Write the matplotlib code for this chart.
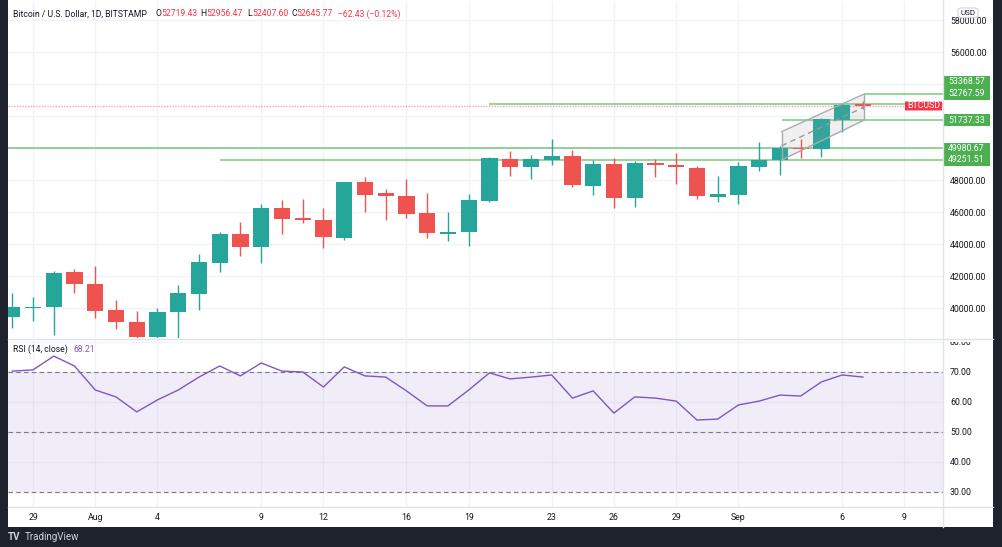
import matplotlib.pyplot as plt
import matplotlib.patches as mpatches
import matplotlib.transforms as mtrans
import numpy as np
import pandas as pd

plt.rcParams['font.family'] = ['Roboto', 'DejaVu Sans']

# daily candles 28 Jul .. 7 Sep 2021
dates = pd.date_range('2021-07-28', '2021-09-07')
opens = [39419, 39990, 40062, 42231, 41500, 39875, 39144, 38169, 39731, 40894,
         42831, 44606, 43831, 46269, 45606, 45500, 44356, 47856, 47169, 47019,
         45937, 44606, 44731, 46706, 49294, 48831, 49269, 49481, 47644, 49000,
         46856, 49062, 48919, 48750, 46956, 47062, 48794, 49250, 50019, 49919,
         51750, 52719.43]
highs = [40919, 40669, 42312, 42437, 42644, 40481, 39812, 39981, 41419, 43394,
         44769, 45356, 46500, 46750, 46794, 46231, 47894, 48187, 47419, 48081,
         47187, 46019, 47106, 49456, 49812, 49562, 50562, 49894, 49250, 49394,
         49206, 49331, 49687, 48875, 48250, 49144, 50394, 50100, 50562, 51900,
         52794, 52956.47]
lows = [38769, 39206, 38312, 40956, 39394, 38687, 38062, 38106, 38062, 39856,
        42250, 43269, 42794, 44644, 45331, 43769, 44250, 45981, 45481, 45625,
        44394, 44206, 43875, 46606, 48231, 48044, 48937, 47581, 47062, 46269,
        46331, 48206, 47750, 46831, 46644, 46500, 48581, 48331, 49356, 49456,
        51019, 52407.60]
closes = [40062, 40030, 42206, 41481, 39812, 39144, 38169, 39750, 40919, 42856,
          44606, 43831, 46269, 45581, 45481, 44419, 47856, 47081, 46981, 45894,
          44687, 44731, 46731, 49356, 48831, 49294, 49519, 47706, 48981, 46856,
          49081, 48919, 48794, 46981, 47125, 48856, 49250, 50019, 49919, 51794,
          52708, 52645.77]
rsi = [70.2, 70.6, 75.2, 71.9, 63.9, 61.6, 56.6, 60.6, 63.9, 68.2,
       71.9, 68.6, 72.9, 70.2, 69.9, 64.9, 71.6, 68.6, 68.2, 63.6,
       58.6, 58.6, 63.9, 69.6, 67.6, 68.2, 68.9, 61.2, 63.6, 56.2,
       61.6, 61.2, 60.2, 53.9, 54.2, 58.9, 60.2, 62.2, 61.9, 66.6,
       68.9, 68.21]

# horizontal levels drawn on the chart
levels = [53368.57, 52767.59, 51737.33, 49980.67, 49251.51]
level_from = [41.05, 23.0, 37.08, -1.0, 10.0]
label_at = [54140, 53390, 51737.33, 49980.67, 49251.51]
# parallel channel
chan_x = [37.08, 41.05]
chan_lo = [49251.51, 51737.33]
chan_hi = [51020, 53368.57]
last_price = 52645.77

tick_labels = ['29', 'Aug', '4', '9', '12', '16', '19', '23', '26', '29', 'Sep', '6', '9']
tick_dates = ['2021-07-29', '2021-08-01', '2021-08-04', '2021-08-09', '2021-08-12',
              '2021-08-16', '2021-08-19', '2021-08-23', '2021-08-26', '2021-08-29',
              '2021-09-01', '2021-09-06', '2021-09-09']

UP = '#26a69a'
DOWN = '#ef5350'
GRID = '#f0f3fa'
TXT = '#131722'
LVL = '#4caf50'

W, H = 1002, 547
def fx(x):
    return x / W
def fy(y):
    return 1 - y / H

fig = plt.figure(figsize=(W / 100, H / 100), dpi=100, facecolor='#1e222d')
fig.add_artist(mpatches.Rectangle((fx(8), fy(527)), fx(985), 527 / H, transform=fig.transFigure,
                                  facecolor='white', edgecolor='none', zorder=-5))

ax1 = fig.add_axes([fx(8), fy(338), fx(935), 337 / H])
ax2 = fig.add_axes([fx(8), fy(507), fx(935), 168 / H], sharex=ax1)
for ax in (ax1, ax2):
    ax.set_facecolor('none')
    for s in ax.spines.values():
        s.set_visible(False)
    ax.yaxis.tick_right()
    ax.tick_params(axis='both', length=0, labelsize=6.3, labelcolor=TXT, pad=5)
    ax.grid(True, color=GRID, lw=1)
    ax.set_axisbelow(True)

x = np.arange(len(dates))
o = np.array(opens); c = np.array(closes)
colors = [UP if cc >= oo else DOWN for oo, cc in zip(o, c)]
body_lo = np.minimum(o, c)
body_h = np.maximum(np.abs(c - o), 70)
ax1.vlines(x, lows, highs, colors=colors, lw=1, zorder=3)
ax1.bar(x, body_h, bottom=body_lo, width=0.78, color=colors, zorder=4)

# levels
xmin, xmax = -0.205, 44.86
for lv, x0 in zip(levels, level_from):
    ax1.hlines(lv, x0, xmax, color=LVL, alpha=0.55, lw=1.5, zorder=2)
ax1.hlines(last_price, xmin, xmax, color='#f23645', alpha=0.45, lw=1, linestyles=(0, (1, 1)), zorder=2)

# channel
ax1.fill_between(chan_x, chan_lo, chan_hi, color='#9598a1', alpha=0.14, lw=0, zorder=5)
ax1.plot(chan_x, chan_lo, color='#a9abb3', lw=1, zorder=5)
ax1.plot(chan_x, chan_hi, color='#a9abb3', lw=1, zorder=5)
ax1.plot(chan_x, [(a + b) / 2 for a, b in zip(chan_lo, chan_hi)], color='#9598a1', lw=1,
         ls=(0, (4, 3)), zorder=5)
ax1.vlines(chan_x, [chan_lo[0], chan_lo[1]], [chan_hi[0], chan_hi[1]], color='#a9abb3', lw=1, zorder=5)

ax1.set_xlim(xmin, xmax)
ax1.set_ylim(38125, 59187.5)
pt = np.arange(40000, 58001, 2000)
ax1.set_yticks(pt)
# 50000 / 52000 / 54000 sit under the level labels
ax1.set_yticklabels(['' if v in (50000, 52000, 54000) else '%.2f' % v for v in pt])
ax1.tick_params(axis='x', labelbottom=False)

# price axis labels
blend = mtrans.blended_transform_factory(ax1.transAxes, ax1.transData)
bw = 47 / 935
for lv, ly in zip(levels, label_at):
    ax1.add_patch(mpatches.Rectangle((1.0, ly - 360), bw, 720, transform=blend, facecolor=LVL,
                                     edgecolor='none', clip_on=False, zorder=10))
    ax1.text(1.0 + bw / 2, ly, '%.2f' % lv, transform=blend, color='white', fontsize=6.3,
             ha='center', va='center', clip_on=False, zorder=11)
ax1.add_patch(mpatches.FancyBboxPatch((897 / 935, 52625 - 280), 37 / 935, 560, transform=blend,
                                      boxstyle='round,pad=0,rounding_size=0.002', facecolor='#f23645',
                                      edgecolor='none', clip_on=False, zorder=10))
ax1.text(915.5 / 935, 52625, 'BTCUSD', transform=blend, color='white', fontsize=6.3,
         ha='center', va='center', zorder=11)

# RSI pane
ax2.axhspan(30, 70, color='#7e57c2', alpha=0.1, lw=0, zorder=1)
for lv in (70, 50, 30):
    ax2.axhline(lv, color='#787b86', lw=0.8, ls=(0, (4, 3)), zorder=2)
ax2.plot(x, rsi, color='#7e57c2', lw=1, zorder=3)
ax2.set_ylim(24.9, 80.9)
rt = np.arange(30, 81, 10)
ax2.set_yticks(rt)
ax2.set_yticklabels(['%.2f' % v for v in rt])
tick_pos = [(pd.Timestamp(d) - dates[0]).days for d in tick_dates]
ax2.set_xticks(tick_pos)
ax2.set_xticklabels(tick_labels)
ax2.tick_params(axis='x', pad=4)

# frame lines (top of the 80.00 label is cut by the price pane)
fig.add_artist(mpatches.Rectangle((fx(943.5), fy(341.5)), fx(49), 12 / H, transform=fig.transFigure,
                                  facecolor='white', edgecolor='none', zorder=5))
for yy in (338.5, 507):
    fig.add_artist(plt.Line2D([fx(8), fx(993)], [fy(yy), fy(yy)], color='#e0e3eb', lw=1, zorder=6))
fig.add_artist(plt.Line2D([fx(943), fx(943)], [fy(0), fy(527)], color='#e0e3eb', lw=1, zorder=6))

# USD box
fig.add_artist(mpatches.FancyBboxPatch((fx(958), fy(17.5)), fx(20), 9.5 / H, transform=fig.transFigure,
                                       boxstyle='round,pad=0,rounding_size=0.004', facecolor='white',
                                       edgecolor='#d1d4dc', lw=0.8, zorder=7))
fig.text(fx(968), fy(12.7), 'USD', color=TXT, fontsize=5.8, ha='center', va='center', zorder=8)

# header legend
hy = fy(14)
fs = 6.2
fig.text(fx(13), hy, 'Bitcoin / U.S. Dollar, 1D, BITSTAMP', color=TXT, fontsize=fs, va='center')
parts = [(155, 161, 'O', '52719.43'), (200, 206, 'H', '52956.47'),
         (247, 252, 'L', '52407.60'), (291, 296.5, 'C', '52645.77')]
for lx, vx, k, v in parts:
    fig.text(fx(lx), hy, k, color=TXT, fontsize=fs, va='center')
    fig.text(fx(vx), hy, v, color='#f23645', fontsize=fs, va='center')
fig.text(fx(337.5), hy, '\u221262.43 (\u22120.12%)', color='#f23645', fontsize=fs, va='center')

fig.text(fx(13), fy(349), 'RSI (14, close)', color=TXT, fontsize=fs, va='center')
fig.text(fx(74), fy(349), '68.21', color='#7e57c2', fontsize=fs, va='center')

# footer
fig.text(fx(8), fy(537), 'TV', color='#d1d4dc', fontsize=7, fontweight='bold', va='center')
fig.text(fx(25), fy(537), 'TradingView', color='#d1d4dc', fontsize=7, va='center')

fig.savefig('out.png', dpi=100, facecolor=fig.get_facecolor())
